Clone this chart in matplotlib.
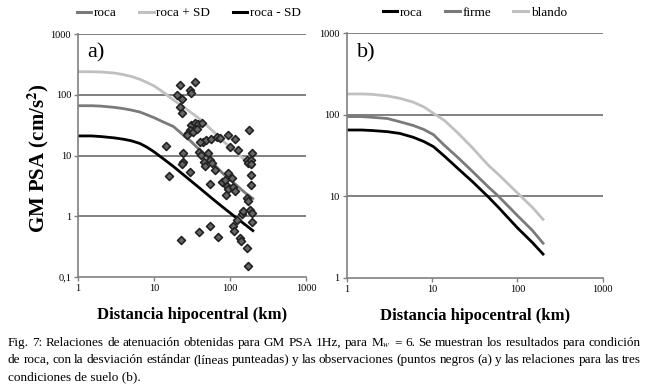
import matplotlib
matplotlib.use("Agg")
import matplotlib.pyplot as plt
from matplotlib.lines import Line2D

plt.rcParams['font.family'] = ['Liberation Serif', 'DejaVu Serif']
plt.rcParams['mathtext.fontset'] = 'stix'

# panel a) curves (distance km, PSA cm/s2)
dist_a = [1, 1.5, 2, 3, 4, 5, 6.5, 8, 10, 13, 18, 25, 30, 40, 60, 80, 120, 160, 200]
roca_a = [66, 66, 65, 62, 59, 56, 52, 47, 42, 36, 30, 21, 17.5, 12.3, 7.4, 5.1, 3.3, 2.4, 1.95]
roca_sd_plus = [240, 239, 237, 228, 214, 200, 180, 160, 140, 112, 82, 62, 52, 40, 25, 17.5, 11.5, 8.2, 6.5]
roca_sd_minus = [21, 21, 20.5, 19.5, 18.5, 17.5, 15.8, 13.8, 11.5, 9, 6.6, 4.7, 3.9, 2.9, 1.9, 1.42, 0.95, 0.72, 0.58]

# observations
obs_dist = [22, 34.6, 19.9, 23.4, 29.7, 30.5, 21.9, 23.7, 14.4, 178,
            31, 34.6, 38.4, 42.4, 29.7, 28.2, 33, 36.5, 26.8,
            44.5, 49, 57, 67, 74, 94.7, 116, 100, 128,
            15.7, 24.3, 24.3, 23.3, 29.7, 40, 39, 42, 45,
            51.6, 54.6, 57.4, 63.4, 46.7, 54, 78, 86, 93, 90, 95, 88, 105, 110, 116,
            110, 113, 122, 135, 139, 142, 149, 166, 166, 183, 175,
            166, 175, 194, 188, 188, 188, 188, 194, 194, 173,
            23, 39, 54.5, 70]
obs_psa = [145, 164, 100, 85, 120, 107, 63.6, 50.7, 14.4, 26,
           31.8, 33.9, 33, 33.9, 26.3, 23.2, 24.7, 27, 21.8,
           16.9, 18, 18.6, 19.8, 19.2, 21.6, 18.4, 14, 12.3,
           4.6, 10.8, 7.9, 7.2, 5.4, 16.8, 11.6, 10.2, 7.9,
           10.8, 8.5, 7.4, 5.8, 6.6, 3.4, 3.7, 4.0, 5.1, 3.2, 2.8, 2.2, 4.2, 3.0, 2.6,
           0.68, 0.58, 0.88, 0.44, 0.39, 1.07, 1.2, 0.30, 2.0, 1.27, 1.76,
           8.5, 7.5, 10.8, 8.5, 7.3, 4.8, 3.3, 1.15, 0.8, 0.15,
           0.41, 0.56, 0.68, 0.46]

# panel b) curves by soil type
dist_b = [1, 1.5, 2, 3, 4.2, 6, 8, 10.4, 14, 20, 30, 45.7, 60, 100, 150, 200]
roca_b = [65, 65, 64, 62, 59, 53, 47, 40.6, 31, 22, 15, 9.8, 7.3, 4.1, 2.7, 1.95]
firme_b = [95, 95, 93, 90, 82, 74, 66, 57, 42, 30, 20, 13, 10, 5.8, 3.8, 2.65]
blando_b = [180, 180, 178, 170, 159, 143, 125, 104, 85, 60, 39, 24, 18.5, 11, 7.3, 5.2]

c_dark, c_mid, c_light = 'black', '#7a7a7a', '#c0c0c0'
grid_c = '#808080'

fig = plt.figure(figsize=(6.49, 3.88), dpi=100)
W, H = 649, 388
ax1 = fig.add_axes([78 / W, 1 - 277 / H, 228 / W, 243 / H])
ax2 = fig.add_axes([346.7 / W, 1 - 277.7 / H, 256 / W, 244.4 / H])


def style(ax, ylim, yticks, ylabels):
    ax.set_xscale('log')
    ax.set_yscale('log')
    ax.set_xlim(1, 1000)
    ax.set_ylim(*ylim)
    ax.set_xticks([1, 10, 100, 1000])
    ax.set_xticklabels(['1', '10', '100', '1000'])
    ax.set_yticks(yticks)
    ax.set_yticklabels(ylabels)
    ax.minorticks_off()
    for t in yticks[1:]:
        ax.axhline(t, color=grid_c, lw=1.4, zorder=0)
    for s in ['top', 'right']:
        ax.spines[s].set_visible(False)
    for s in ['left', 'bottom']:
        ax.spines[s].set_color(grid_c)
        ax.spines[s].set_linewidth(1.2)
    ax.tick_params(labelsize=7.5, color=grid_c, length=3, width=1, pad=2)
    ax.set_xlabel('Distancia hipocentral (km)', fontsize=12, fontweight='bold', labelpad=10)


style(ax1, (0.1, 1000), [0.1, 1, 10, 100, 1000], ['0,1', '1', '10', '100', '1000'])
style(ax2, (1, 1000), [1, 10, 100, 1000], ['1', '10', '100', '1000'])

ax1.plot(dist_a, roca_a, color=c_mid, lw=2)
ax1.plot(dist_a, roca_sd_plus, color=c_light, lw=2)
ax1.plot(dist_a, roca_sd_minus, color=c_dark, lw=2)
ax1.scatter(obs_dist, obs_psa, marker='D', s=16, facecolor='#666666',
            edgecolor='#222222', linewidth=1.2, zorder=3)
ax1.set_ylabel('GM PSA (cm/s$^\\mathbf{2}$)', fontsize=15, fontweight='bold')
ax1.yaxis.set_label_coords(-0.12, 0.49)
ax1.text(0.04, 0.96, 'a)', transform=ax1.transAxes, fontsize=16, va='top')

ax2.plot(dist_b, roca_b, color=c_dark, lw=2)
ax2.plot(dist_b, firme_b, color=c_mid, lw=2)
ax2.plot(dist_b, blando_b, color=c_light, lw=2)
ax2.text(0.04, 0.96, 'b)', transform=ax2.transAxes, fontsize=16, va='top')

leg_kw = dict(loc='lower center', ncol=3, frameon=False, fontsize=9.5,
              handlelength=1.1, handletextpad=0.2, columnspacing=1.7, borderaxespad=0.7)
h1 = [Line2D([], [], color=c, lw=2.2) for c in (c_mid, c_light, c_dark)]
ax1.legend(h1, ['roca', 'roca + SD', 'roca - SD'], bbox_to_anchor=(0.485, 1.0), **leg_kw)
h2 = [Line2D([], [], color=c, lw=2.2) for c in (c_dark, c_mid, c_light)]
ax2.legend(h2, ['roca', 'firme', 'blando'], bbox_to_anchor=(0.5, 1.0), **leg_kw)

# caption, lines 1 and 2 justified
caption = [
    'Fig. 7: Relaciones de atenuación obtenidas para GM PSA 1Hz, para M$_{w}$ = 6. Se muestran los resultados para condición',
    'de roca, con la desviación estándar (líneas punteadas) y las observaciones (puntos negros (a) y las relaciones para las tres',
    'condiciones de suelo (b).',
]
cap_y = [343, 360, 377]
x0, x1 = 8, 641
renderer = fig.canvas.get_renderer()
for i, line in enumerate(caption):
    y = 1 - cap_y[i] / H
    if i == len(caption) - 1:
        fig.text(x0 / W, y, line, fontsize=9.5, va='center')
        continue
    words = line.split(' ')
    objs = [fig.text(0, y, w, fontsize=9.5, va='center') for w in words]
    widths = [o.get_window_extent(renderer).width for o in objs]
    gap = (x1 - x0 - sum(widths)) / (len(words) - 1)
    x = x0
    for o, w in zip(objs, widths):
        o.set_x(x / W)
        x += w + gap

fig.savefig('out.png', dpi=100)
